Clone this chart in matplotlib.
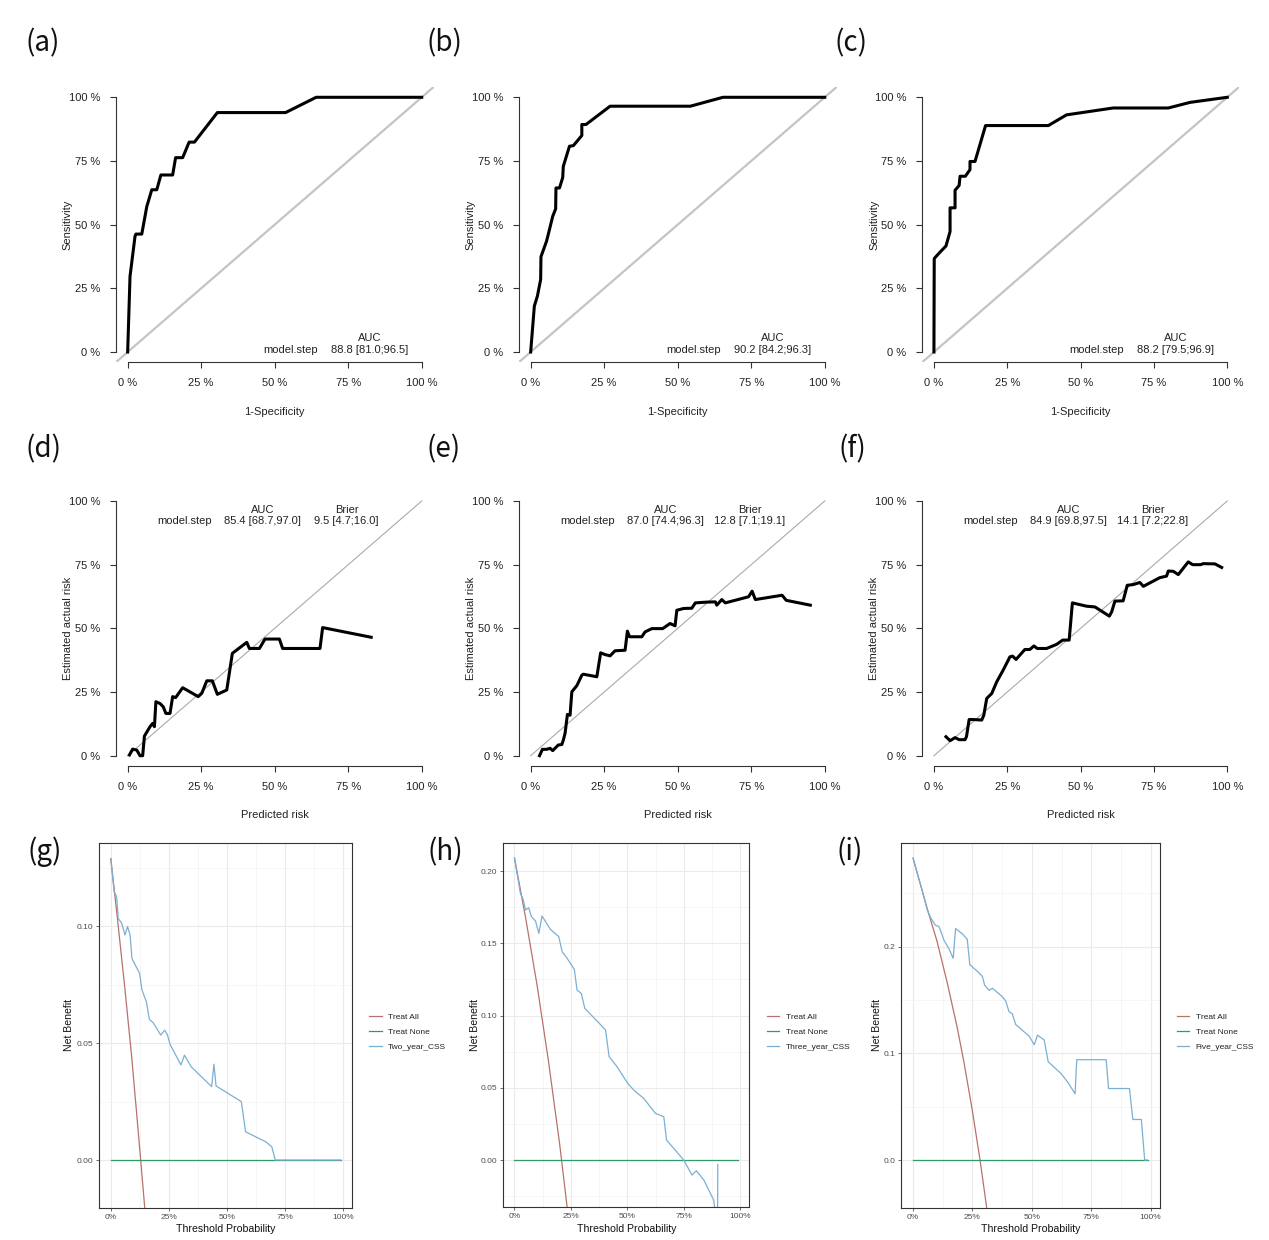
import matplotlib
matplotlib.use('Agg')
import matplotlib.pyplot as plt

plt.rcParams['font.family'] = ['Liberation Sans', 'DejaVu Sans']

# ---------------- data ----------------
pct_ticks = [0, 0.25, 0.5, 0.75, 1.0]
pct_labels_r = ['0 %', '25 %', '50 %', '75 %', '100 %']
pct_labels_gg = ['0%', '25%', '50%', '75%', '100%']
panel_letters = ['(a)', '(b)', '(c)', '(d)', '(e)', '(f)', '(g)', '(h)', '(i)']
model_name = 'model.step'

# ROC curves
roc_a_fpr = [0, 0.008, 0.025, 0.028, 0.048, 0.065, 0.082, 0.099, 0.113, 0.153, 0.163, 0.187, 0.209, 0.227, 0.305, 0.537, 0.641, 1.0]
roc_a_tpr = [0, 0.297, 0.454, 0.463, 0.463, 0.571, 0.637, 0.637, 0.695, 0.695, 0.763, 0.763, 0.824, 0.824, 0.940, 0.940, 1.0, 1.0]
roc_b_fpr = [0, 0.0125, 0.023, 0.034, 0.035, 0.054, 0.064, 0.075, 0.085, 0.086, 0.098, 0.109, 0.111, 0.132, 0.145, 0.174, 0.174, 0.188, 0.27, 0.543, 0.654, 1.0]
roc_b_tpr = [0, 0.18, 0.22, 0.285, 0.374, 0.435, 0.481, 0.533, 0.562, 0.644, 0.644, 0.685, 0.729, 0.808, 0.81, 0.85, 0.893, 0.893, 0.965, 0.965, 1.0, 1.0]
roc_c_fpr = [0, 0.001, 0.019, 0.041, 0.055, 0.055, 0.072, 0.072, 0.086, 0.089, 0.107, 0.123, 0.123, 0.14, 0.176, 0.39, 0.452, 0.611, 0.799, 0.873, 1.0]
roc_c_tpr = [0, 0.367, 0.39, 0.416, 0.473, 0.566, 0.566, 0.635, 0.654, 0.69, 0.69, 0.716, 0.748, 0.748, 0.889, 0.889, 0.931, 0.958, 0.958, 0.98, 1.0]
roc_auc = ['88.8 [81.0;96.5]', '90.2 [84.2;96.3]', '88.2 [79.5;96.9]']

# Calibration curves
cal_d_pred = [0.006, 0.017, 0.031, 0.042, 0.051, 0.057, 0.076, 0.085, 0.091, 0.096, 0.11, 0.121, 0.13, 0.144, 0.153, 0.163, 0.187, 0.24, 0.252, 0.269, 0.288, 0.305, 0.337, 0.356, 0.405, 0.414, 0.448, 0.467, 0.516, 0.527, 0.654, 0.663, 0.828]
cal_d_obs = [0.003, 0.026, 0.022, 0.0, 0.0, 0.077, 0.114, 0.127, 0.114, 0.212, 0.205, 0.192, 0.166, 0.166, 0.232, 0.228, 0.267, 0.232, 0.245, 0.294, 0.294, 0.241, 0.258, 0.402, 0.445, 0.421, 0.421, 0.458, 0.458, 0.421, 0.421, 0.503, 0.465]
cal_e_pred = [0.03, 0.04, 0.054, 0.066, 0.075, 0.094, 0.106, 0.111, 0.117, 0.125, 0.134, 0.14, 0.157, 0.174, 0.179, 0.225, 0.238, 0.253, 0.27, 0.287, 0.321, 0.329, 0.336, 0.378, 0.389, 0.412, 0.449, 0.474, 0.491, 0.497, 0.52, 0.548, 0.56, 0.599, 0.628, 0.633, 0.65, 0.662, 0.741, 0.753, 0.764, 0.855, 0.869, 0.951]
cal_e_obs = [0.0, 0.025, 0.025, 0.029, 0.02, 0.042, 0.044, 0.061, 0.088, 0.162, 0.159, 0.251, 0.275, 0.316, 0.32, 0.31, 0.404, 0.397, 0.392, 0.412, 0.414, 0.489, 0.467, 0.467, 0.486, 0.499, 0.499, 0.519, 0.51, 0.571, 0.578, 0.579, 0.6, 0.603, 0.604, 0.591, 0.613, 0.6, 0.624, 0.646, 0.613, 0.63, 0.61, 0.591]
cal_f_pred = [0.041, 0.055, 0.072, 0.086, 0.106, 0.111, 0.12, 0.134, 0.163, 0.17, 0.18, 0.197, 0.214, 0.236, 0.259, 0.268, 0.28, 0.293, 0.31, 0.327, 0.341, 0.352, 0.384, 0.418, 0.439, 0.461, 0.472, 0.52, 0.549, 0.598, 0.606, 0.617, 0.645, 0.659, 0.68, 0.702, 0.714, 0.77, 0.793, 0.799, 0.816, 0.833, 0.867, 0.882, 0.909, 0.918, 0.958, 0.981]
cal_f_obs = [0.0745, 0.059, 0.071, 0.063, 0.063, 0.075, 0.142, 0.142, 0.14, 0.159, 0.225, 0.244, 0.29, 0.336, 0.388, 0.391, 0.378, 0.395, 0.417, 0.417, 0.431, 0.421, 0.421, 0.437, 0.454, 0.454, 0.6, 0.587, 0.584, 0.548, 0.565, 0.607, 0.608, 0.669, 0.672, 0.68, 0.665, 0.699, 0.705, 0.725, 0.724, 0.711, 0.761, 0.75, 0.75, 0.754, 0.753, 0.739]
cal_auc = ['85.4 [68.7,97.0]', '87.0 [74.4;96.3]', '84.9 [69.8,97.5]']
cal_brier = ['9.5 [4.7;16.0]', '12.8 [7.1;19.1]', '14.1 [7.2;22.8]']

# Decision curves
dca_names = ['Two_year_CSS', 'Three_year_CSS', 'Five_year_CSS']
none_x = [0.0, 0.99]
none_y = [0.0, 0.0]
all_g_x = [0.0, 0.03, 0.06, 0.09, 0.12, 0.15]
all_g_y = [0.129, 0.102, 0.074, 0.044, 0.010, -0.025]
all_h_x = [0.0, 0.05, 0.10, 0.15, 0.20, 0.25]
all_h_y = [0.209, 0.167, 0.121, 0.069, 0.011, -0.055]
all_i_x = [0.0, 0.059, 0.101, 0.144, 0.186, 0.214, 0.249, 0.282, 0.31, 0.33]
all_i_y = [0.283, 0.236, 0.205, 0.166, 0.124, 0.092, 0.047, 0.0, -0.0447, -0.07]
mod_g_x = [0, 0.0146, 0.025, 0.032, 0.047, 0.061, 0.072, 0.083, 0.091, 0.105, 0.124, 0.134, 0.153, 0.166, 0.182, 0.215, 0.232, 0.244, 0.255, 0.302, 0.317, 0.346, 0.434, 0.444, 0.453, 0.562, 0.58, 0.667, 0.693, 0.708, 0.99]
mod_g_y = [0.1287, 0.1148, 0.1127, 0.1034, 0.1013, 0.0963, 0.0999, 0.0963, 0.0863, 0.0835, 0.0799, 0.0728, 0.0678, 0.0602, 0.0588, 0.0535, 0.0556, 0.0535, 0.0495, 0.0407, 0.0449, 0.0399, 0.0314, 0.0410, 0.0317, 0.025, 0.0121, 0.0078, 0.0057, 0.0, 0.0]
mod_h_x = [0, 0.0265, 0.038, 0.049, 0.063, 0.075, 0.093, 0.108, 0.122, 0.159, 0.196, 0.211, 0.233, 0.265, 0.277, 0.296, 0.311, 0.373, 0.403, 0.419, 0.454, 0.501, 0.528, 0.572, 0.624, 0.661, 0.673, 0.705, 0.749, 0.786, 0.805, 0.838, 0.882, 0.896, 0.899, 0.9]
mod_h_y = [0.2088, 0.1845, 0.1804, 0.173, 0.1746, 0.1684, 0.1654, 0.1569, 0.1689, 0.1596, 0.1546, 0.1442, 0.1396, 0.1319, 0.1176, 0.1153, 0.105, 0.095, 0.09, 0.0715, 0.0646, 0.0531, 0.0484, 0.0427, 0.0323, 0.03, 0.0138, 0.0081, 0.0, -0.0104, -0.0074, -0.0138, -0.0277, -0.045, -0.045, -0.003]
mod_i_x = [0, 0.038, 0.059, 0.073, 0.094, 0.108, 0.115, 0.13, 0.151, 0.169, 0.179, 0.207, 0.228, 0.239, 0.27, 0.292, 0.301, 0.32, 0.334, 0.376, 0.39, 0.404, 0.418, 0.432, 0.489, 0.51, 0.524, 0.552, 0.569, 0.623, 0.651, 0.682, 0.689, 0.813, 0.823, 0.911, 0.925, 0.961, 0.975, 0.986]
mod_i_y = [0.2828, 0.253, 0.235, 0.2275, 0.22, 0.219, 0.2156, 0.206, 0.198, 0.189, 0.217, 0.212, 0.207, 0.183, 0.177, 0.172, 0.164, 0.159, 0.161, 0.153, 0.149, 0.139, 0.137, 0.127, 0.116, 0.108, 0.117, 0.1125, 0.092, 0.081, 0.073, 0.062, 0.094, 0.094, 0.067, 0.067, 0.038, 0.038, 0.0, 0.0]

# ---------------- layout helpers ----------------
W, H = 1269, 1240
fig = plt.figure(figsize=(W / 100, H / 100), dpi=100)
fig.patch.set_facecolor('white')


def ax_px(left, top, right, bottom):
    return fig.add_axes([left / W, 1 - bottom / H, (right - left) / W, (bottom - top) / H])


def letter(x, y, s):
    fig.text(x / W, 1 - y / H, s, fontsize=20, ha='center', va='center',
             family=['Noto Sans CJK SC', 'DejaVu Sans'], color='#111111')


def r_style(ax, xlabel, ylabel):
    for s in ['top', 'right']:
        ax.spines[s].set_visible(False)
    for s in ['left', 'bottom']:
        ax.spines[s].set_bounds(0, 1)
        ax.spines[s].set_color('#333333')
        ax.spines[s].set_linewidth(0.8)
    ax.set_xticks(pct_ticks)
    ax.set_xticklabels(pct_labels_r)
    ax.set_yticks(pct_ticks)
    ax.set_yticklabels(pct_labels_r)
    ax.set_xlim(-0.04, 1.04)
    ax.set_ylim(-0.04, 1.04)
    ax.tick_params(direction='out', length=4.3, width=0.8, color='#333333',
                   labelsize=8, labelcolor='#222222', pad=7)
    ax.set_xlabel(xlabel, fontsize=8, color='#222222')
    ax.set_ylabel(ylabel, fontsize=8, color='#222222')
    ax.xaxis.label.set_va('center')
    ax.yaxis.label.set_va('center')
    ax.xaxis.set_label_coords(0.5, -0.18)
    ax.yaxis.set_label_coords(-0.151, 0.5)


cols_r = [(115.9, 433.5), (518.9, 836.5), (922.2, 1239.0)]

# ---------------- Row 1: ROC ----------------
roc_data = [(roc_a_fpr, roc_a_tpr), (roc_b_fpr, roc_b_tpr), (roc_c_fpr, roc_c_tpr)]
for i, (fpr, tpr) in enumerate(roc_data):
    l, r = cols_r[i]
    ax = ax_px(l, 87.1, r, 362.2)
    ax.axline((0, 0), (1, 1), color='#C4C4C4', lw=1.6, zorder=1)
    ax.plot(fpr, tpr, color='black', lw=2.2, zorder=3, solid_joinstyle='round')
    r_style(ax, '1-Specificity', 'Sensitivity')
    ax.text(0.824, 0.055, 'AUC', fontsize=8, ha='center', va='center', color='#222222')
    ax.text(0.647, 0.008, model_name, fontsize=8, ha='right', va='center', color='#222222')
    ax.text(0.824, 0.008, roc_auc[i], fontsize=8, ha='center', va='center', color='#222222')

# ---------------- Row 2: Calibration ----------------
cal_data = [(cal_d_pred, cal_d_obs), (cal_e_pred, cal_e_obs), (cal_f_pred, cal_f_obs)]
for i, (p, o) in enumerate(cal_data):
    l, r = cols_r[i]
    ax = ax_px(l, 490.8, r, 765.9)
    ax.plot([0, 1], [0, 1], color='#AAAAAA', lw=0.8, zorder=1)
    ax.plot(p, o, color='black', lw=2.2, zorder=3, solid_joinstyle='round')
    r_style(ax, 'Predicted risk', 'Estimated actual risk')
    ax.text(0.46, 0.965, 'AUC', fontsize=8, ha='center', va='center', color='#222222')
    ax.text(0.745, 0.965, 'Brier', fontsize=8, ha='center', va='center', color='#222222')
    ax.text(0.287, 0.92, model_name, fontsize=8, ha='right', va='center', color='#222222')
    ax.text(0.46, 0.92, cal_auc[i], fontsize=8, ha='center', va='center', color='#222222')
    ax.text(0.745, 0.92, cal_brier[i], fontsize=8, ha='center', va='center', color='#222222')

# ---------------- Row 3: Decision curves ----------------
col_all = '#B8716B'
col_none = '#2E9B6B'
col_mod = '#7AB0D4'

dca_boxes = [(99.3, 842.7, 352.3, 1207.7), (503.3, 842.7, 749.3, 1206.7), (901.3, 842.7, 1160.0, 1207.7)]
dca_ylims = [(-0.0204, 0.1358), (-0.0323, 0.2196), (-0.0447, 0.2974)]
dca_yticks = [[0.0, 0.05, 0.10], [0.0, 0.05, 0.10, 0.15, 0.20], [0.0, 0.1, 0.2]]
dca_ylabels = [['0.00', '0.05', '0.10'], ['0.00', '0.05', '0.10', '0.15', '0.20'], ['0.0', '0.1', '0.2']]
dca_yminor = [[0.025, 0.075, 0.125], [-0.025, 0.025, 0.075, 0.125, 0.175], [0.05, 0.15, 0.25]]
dca_ylab_x = [69, 475, 876.7]
dca_all = [(all_g_x, all_g_y), (all_h_x, all_h_y), (all_i_x, all_i_y)]
dca_mod = [(mod_g_x, mod_g_y), (mod_h_x, mod_h_y), (mod_i_x, mod_i_y)]
legend_key_x = [369, 766.7, 1176.7]

for i in range(3):
    l, t, r, b = dca_boxes[i]
    ax = ax_px(l, t, r, b)
    ax.plot(*dca_all[i], color=col_all, lw=0.9, label='Treat All')
    ax.plot(none_x, none_y, color=col_none, lw=0.9, label='Treat None')
    ax.plot(*dca_mod[i], color=col_mod, lw=0.9, label=dca_names[i])
    ax.set_xticks(pct_ticks)
    ax.set_xticklabels(pct_labels_gg)
    ax.set_xticks([0.125, 0.375, 0.625, 0.875], minor=True)
    ax.set_yticks(dca_yticks[i])
    ax.set_yticklabels(dca_ylabels[i])
    ax.set_yticks(dca_yminor[i], minor=True)
    ax.set_xlim(-0.0495, 1.0395)
    ax.set_ylim(*dca_ylims[i])
    ax.grid(which='major', color='#EBEBEB', lw=0.8)
    ax.grid(which='minor', color='#F3F3F3', lw=0.5)
    ax.set_axisbelow(True)
    ax.tick_params(which='minor', length=0)
    ax.tick_params(which='major', length=2.5, width=0.5, color='#333333',
                   labelsize=6, labelcolor='#4D4D4D', pad=2)
    for s in ax.spines.values():
        s.set_color('#333333')
        s.set_linewidth(0.8)
    ax.set_xlabel('Threshold Probability', fontsize=7.6, color='#111111')
    ax.set_ylabel('Net Benefit', fontsize=7.6, color='#111111')
    ax.xaxis.label.set_va('center')
    ax.yaxis.label.set_va('center')
    ax.xaxis.set_label_coords(0.5, -(1229 - b) / (b - t))
    ax.yaxis.set_label_coords((dca_ylab_x[i] - l) / (r - l), 0.5)
    leg = ax.legend(loc='center left', bbox_to_anchor=((legend_key_x[i] - l) / (r - l), (b - 1032) / (b - t)),
                    frameon=False, fontsize=6, handlelength=1.5, handletextpad=0.8,
                    labelspacing=0.9, borderpad=0, borderaxespad=0)
    for txt in leg.get_texts():
        txt.set_color('#222222')

# ---------------- panel letters ----------------
letter_pos = [(43, 43), (444, 43), (851, 43), (43, 449), (444, 449), (852, 449), (45, 852), (445, 852), (850, 852)]
for (x, y), s in zip(letter_pos, panel_letters):
    letter(x, y, s)

fig.savefig('out.png', dpi=100, facecolor='white')
